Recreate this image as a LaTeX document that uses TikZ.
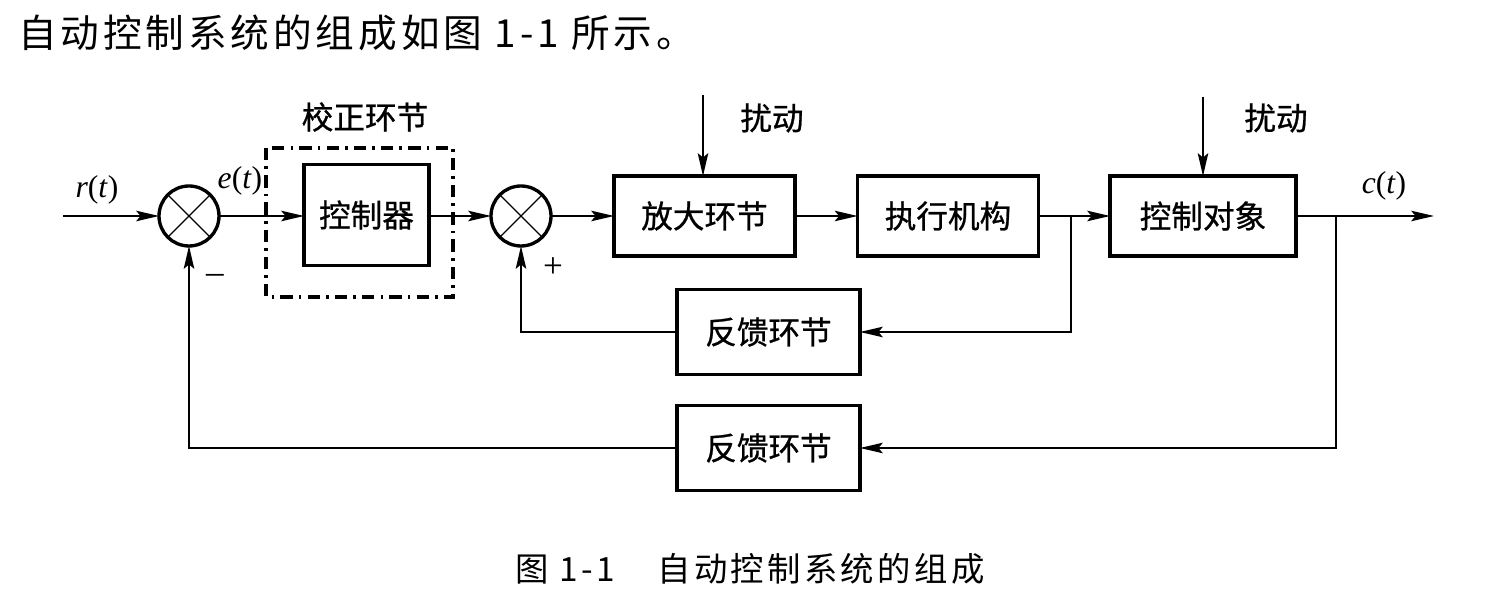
\documentclass[tikz,border=0pt]{standalone}
\usepackage{fontspec}
\setmainfont{Liberation Serif}
\newfontfamily\cjk[FakeBold=0.8]{Noto Sans CJK SC}
\newfontfamily\cjkhead[LetterSpace=10]{Noto Sans CJK SC}
\newfontfamily\cjkcap[LetterSpace=10]{Noto Sans CJK SC}
\usetikzlibrary{arrows.meta}
\begin{document}
\begin{tikzpicture}[x=0.02cm,y=-0.02cm,
  box/.style={draw, line width=1.9pt, inner sep=0pt, outer sep=0pt, font=\cjk\fontsize{18}{18}\selectfont},
  bigbox/.style={box, minimum width=3.62cm, minimum height=1.6cm},
  fbbox/.style={box, minimum width=3.66cm, minimum height=1.7cm},
  sumnode/.style={draw, circle, line width=1.9pt, minimum size=1.2cm, inner sep=0pt, outer sep=0pt},
  cross/.style={line width=0.7pt},
  sig/.style={line width=0.9pt, -{Stealth[length=13pt,width=6pt,inset=2.5pt]}},
  lbl/.style={font=\cjk\fontsize{18}{18}\selectfont, inner sep=0pt},
  var/.style={font=\fontsize{18}{18}\selectfont, inner sep=0pt},
  sign/.style={font=\fontsize{20}{20}\selectfont, inner sep=0pt},
  corr/.style={line width=1.8pt, dash pattern=on 7pt off 3.5pt on 1.5pt off 3.5pt}]
\useasboundingbox (0,0) rectangle (1499,607);

% header and caption
\node[anchor=base west, inner sep=0pt, font=\cjkhead\fontsize{22}{22}\selectfont] (head) at (18,48) {自动控制系统的组成如图 1-1 所示。};
\node[anchor=base west, inner sep=0pt, font=\cjkcap\fontsize{19}{19}\selectfont] (cap1) at (515,582) {图 1-1};
\node[anchor=base west, inner sep=0pt, font=\cjkcap\fontsize{19}{19}\selectfont] (cap2) at (657,582) {自动控制系统的组成};

% blocks
\node[sumnode] (s1) at (189,216) {};
\node[box, minimum width=2.5cm, minimum height=2.02cm] (ctrl) at (366.5,215) {控制器};
\node[sumnode] (s2) at (521,216) {};
\node[bigbox] (amp) at (704.5,216) {放大环节};
\node[bigbox] (act) at (948,216) {执行机构};
\node[box, minimum width=3.72cm, minimum height=1.6cm] (plant) at (1203,216) {控制对象};
\node[fbbox] (fb1) at (768.5,332) {反馈环节};
\node[fbbox] (fb2) at (768.5,448) {反馈环节};

\draw[cross] (s1.45) -- (s1.225) (s1.135) -- (s1.315);
\draw[cross] (s2.45) -- (s2.225) (s2.135) -- (s2.315);

% correction dash-dot frame
\draw[corr] (266,148) rectangle (453,297);

% coordinates
\coordinate (in) at (63,216);
\coordinate (out) at (1434,216);
\coordinate (b1) at (1071,216);
\coordinate (b2) at (1336,216);
\coordinate (d1) at (703,95);
\coordinate (d2) at (1203,97);

% connectors
\draw[sig] (in) -- (s1.west);
\draw[sig] (s1.east) -- (ctrl.west |- s1.east);
\draw[sig] (ctrl.east |- s2.west) -- (s2.west);
\draw[sig] (s2.east) -- (amp.west);
\draw[sig] (amp.east) -- (act.west);
\draw[sig] (act.east) -- (plant.west);
\draw[sig] (plant.east) -- (out);
\draw[sig] (d1) -- (d1 |- amp.north);
\draw[sig] (d2) -- (plant.north);
\draw[sig] (b1) |- (fb1.east);
\draw[sig] (fb1.west) -| (s2.south);
\draw[sig] (b2) |- (fb2.east);
\draw[sig] (fb2.west) -| (s1.south);

% labels
\node[var] (rt) at (97,190) {\textit{r}(\textit{t})};
\node[var] (et) at (240,181) {\textit{e}(\textit{t})};
\node[var] (ct) at (1384,186) {\textit{c}(\textit{t})};
\node[lbl] (corrlbl) at (365,117) {校正环节};
\node[lbl] (dist1) at (772,118) {扰动};
\node[lbl] (dist2) at (1276,118) {扰动};
\node[sign] (minus) at (215,279) {\textendash};
\node[sign] (plus) at (553,268) {+};
\end{tikzpicture}
\end{document}
